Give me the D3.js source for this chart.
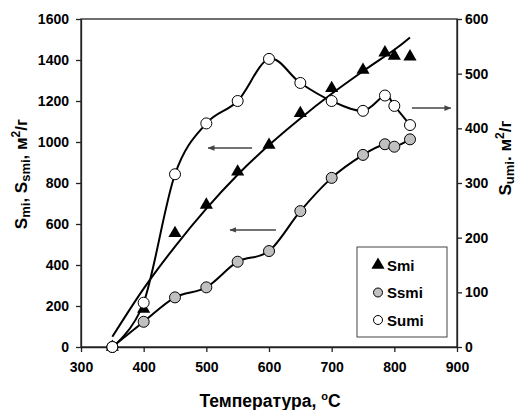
<!DOCTYPE html>
<html>
<head>
<meta charset="utf-8">
<script src="https://cdn.jsdelivr.net/npm/d3@7"></script>
<style>
  html, body { margin: 0; padding: 0; background: #fff; }
  svg { display: block; font-family: Arial, "Liberation Sans", sans-serif; }
  .tick text { font-weight: bold; font-size: 14px; fill: #000; }
</style>
</head>
<body>
<svg id="chart" width="517" height="410"></svg>
<script>
// Specific surface vs. activation temperature
const temperature = [350, 400, 450, 500, 550, 600, 650, 700, 750, 785, 800, 825];
const smi  = [0, 185, 555, 693, 855, 985, 1140, 1262, 1351, 1436, 1420, 1416];
const ssmi = [0, 123, 242, 291, 416, 468, 663, 825, 937, 989, 977, 1013];
const sumi = [0, 81, 316, 409, 450, 527, 483, 450, 432, 460, 441, 406];

// Smi trend curve
const trendT = [350, 400, 450, 500, 550, 600, 650, 700, 750, 800, 825];
const trendS = [50, 285, 490, 675, 840, 985, 1115, 1235, 1345, 1450, 1510];

// Tick labels
const xTicks  = [300, 400, 500, 600, 700, 800, 900];
const yLTicks = [0, 200, 400, 600, 800, 1000, 1200, 1400, 1600];
const yRTicks = [0, 100, 200, 300, 400, 500, 600];

// Arrows pointing to the axis each curve belongs to: [t0, v0, t1, v1, axis]
const arrows = [
  [573, 971, 503, 971, "L"],
  [611, 571, 538, 571, "L"],
  [828, 437, 890, 437, "R"]
];

const legendItems = ["Smi", "Ssmi", "Sumi"];

const svg = d3.select("#chart");
const plot = { left: 81, right: 457, top: 19, bottom: 347 };

const x  = d3.scaleLinear().domain([300, 900]).range([plot.left, plot.right]);
const yL = d3.scaleLinear().domain([0, 1600]).range([plot.bottom, plot.top]);
const yR = d3.scaleLinear().domain([0, 600]).range([plot.bottom, plot.top]);
const fmt = d3.format("d");

// frame
svg.append("rect")
  .attr("x", plot.left).attr("y", plot.top)
  .attr("width", plot.right - plot.left).attr("height", plot.bottom - plot.top)
  .attr("fill", "none").attr("stroke", "#222").attr("stroke-width", 1.3);

// axes
const ax = svg.append("g").attr("transform", `translate(0,${plot.bottom})`)
  .call(d3.axisBottom(x).tickValues(xTicks).tickFormat(fmt).tickSize(5).tickSizeOuter(0).tickPadding(10));
const al = svg.append("g").attr("transform", `translate(${plot.left},0)`)
  .call(d3.axisLeft(yL).tickValues(yLTicks).tickFormat(fmt).tickSize(5).tickSizeOuter(0).tickPadding(7));
const ar = svg.append("g").attr("transform", `translate(${plot.right},0)`)
  .call(d3.axisRight(yR).tickValues(yRTicks).tickFormat(fmt).tickSize(5).tickSizeOuter(0).tickPadding(3));
[ax, al, ar].forEach(g => {
  g.select(".domain").attr("stroke", "#222").attr("stroke-width", 1.3);
  g.selectAll(".tick line").attr("stroke", "#222").attr("stroke-width", 1.3);
});

// axis titles
const xt = svg.append("text")
  .attr("x", 270).attr("y", 407)
  .attr("text-anchor", "middle")
  .attr("font-weight", "bold").attr("font-size", 17.5);
xt.append("tspan").text("Температура, ");
xt.append("tspan").attr("font-size", 11).attr("dy", -7).text("o");
xt.append("tspan").attr("dy", 7).text("C");

function subTitle(sel, parts) {
  parts.forEach(p => {
    const t = sel.append("tspan").text(p.t);
    if (p.sub) t.attr("font-size", 13).attr("dy", 3);
    if (p.sup) t.attr("font-size", 12).attr("dy", -7);
    if (p.back) t.attr("dy", p.back);
  });
}

const ylt = svg.append("text")
  .attr("transform", "translate(27,174) rotate(-90)")
  .attr("text-anchor", "middle")
  .attr("font-weight", "bold").attr("font-size", 17);
subTitle(ylt, [
  { t: "S" }, { t: "mi", sub: true }, { t: ", S", back: -3 }, { t: "smi", sub: true },
  { t: ", м", back: -3 }, { t: "2", sup: true }, { t: "/г", back: 7 }
]);

const yrt = svg.append("text")
  .attr("transform", "translate(511,158) rotate(-90)")
  .attr("text-anchor", "middle")
  .attr("font-weight", "bold").attr("font-size", 17);
subTitle(yrt, [
  { t: "S" }, { t: "umi", sub: true }, { t: ". м", back: -3 }, { t: "2", sup: true }, { t: "/г", back: 7 }
]);

// arrowhead
svg.append("defs").append("marker")
  .attr("id", "head").attr("viewBox", "0 0 10 10")
  .attr("refX", 9).attr("refY", 5)
  .attr("markerWidth", 7).attr("markerHeight", 7)
  .attr("markerUnits", "userSpaceOnUse")
  .attr("orient", "auto")
  .append("path").attr("d", "M0,1 L10,5 L0,9 Z").attr("fill", "#444");

svg.append("g").selectAll("line").data(arrows).join("line")
  .attr("x1", d => x(d[0])).attr("x2", d => x(d[2]))
  .attr("y1", d => (d[4] === "L" ? yL : yR)(d[1]))
  .attr("y2", d => (d[4] === "L" ? yL : yR)(d[3]))
  .attr("stroke", "#444").attr("stroke-width", 1.5)
  .attr("marker-end", "url(#head)");

// curves
const lineL = d3.line().x(d => x(d[0])).y(d => yL(d[1])).curve(d3.curveCardinal.tension(0));
const lineR = d3.line().x(d => x(d[0])).y(d => yR(d[1])).curve(d3.curveCardinal.tension(0));

svg.append("path")
  .attr("d", lineL(d3.zip(trendT, trendS)))
  .attr("fill", "none").attr("stroke", "#000").attr("stroke-width", 2);
svg.append("path")
  .attr("d", lineL(d3.zip(temperature, ssmi)))
  .attr("fill", "none").attr("stroke", "#000").attr("stroke-width", 2);
svg.append("path")
  .attr("d", lineR(d3.zip(temperature, sumi)))
  .attr("fill", "none").attr("stroke", "#000").attr("stroke-width", 2);

// markers
const tri = d3.symbol().type(d3.symbolTriangle).size(75);
svg.append("g").selectAll("path").data(d3.zip(temperature, smi)).join("path")
  .attr("transform", d => `translate(${x(d[0])},${yL(d[1])})`)
  .attr("d", tri).attr("fill", "#000");

svg.append("g").selectAll("circle").data(d3.zip(temperature, ssmi)).join("circle")
  .attr("cx", d => x(d[0])).attr("cy", d => yL(d[1])).attr("r", 5.5)
  .attr("fill", "#c0c0c0").attr("stroke", "#000").attr("stroke-width", 1);

svg.append("g").selectAll("circle").data(d3.zip(temperature, sumi)).join("circle")
  .attr("cx", d => x(d[0])).attr("cy", d => yR(d[1])).attr("r", 5.5)
  .attr("fill", "#fff").attr("stroke", "#000").attr("stroke-width", 1);

// legend
const lg = svg.append("g");
lg.append("rect").attr("x", 357).attr("y", 247).attr("width", 90).attr("height", 90)
  .attr("fill", "#fff").attr("stroke", "#444").attr("stroke-width", 1);
const rows = lg.selectAll("g.row").data(legendItems).join("g")
  .attr("transform", (d, i) => `translate(378,${265 + i * 27.5})`);
rows.each(function (d, i) {
  const g = d3.select(this);
  if (i === 0) g.append("path").attr("d", tri).attr("fill", "#000");
  else g.append("circle").attr("r", 4.5)
    .attr("fill", i === 1 ? "#c0c0c0" : "#fff").attr("stroke", "#000");
  g.append("text").attr("x", 9).attr("y", 5.5)
    .attr("font-weight", "bold").attr("font-size", 15).text(d);
});
</script>
</body>
</html>
